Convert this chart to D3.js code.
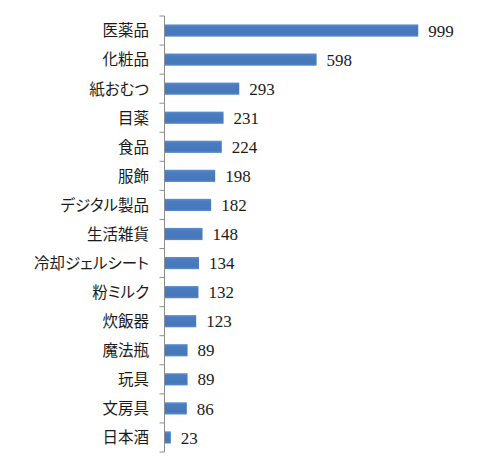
<!DOCTYPE html>
<html>
<head>
<meta charset="utf-8">
<script src="https://cdn.jsdelivr.net/npm/d3@7"></script>
<style>
  body { margin: 0; background: #fff; }
  .cat { font-feature-settings: "palt" 1; }
  .val { font-family: "Liberation Serif", "Times New Roman", Times, serif; }
</style>
</head>
<body>
<div id="chart"></div>
<script>
const categories = ["医薬品", "化粧品", "紙おむつ", "目薬", "食品", "服飾", "デジタル製品", "生活雑貨",
    "冷却ジェルシート", "粉ミルク", "炊飯器", "魔法瓶", "玩具", "文房具", "日本酒"];
const values = [999, 598, 293, 231, 224, 198, 182, 148, 134, 132, 123, 89, 89, 86, 23];

const width = 500, height = 465;
const margin = {top: 16, left: 165, bottom: 13};

const svg = d3.select("#chart").append("svg")
    .attr("width", width)
    .attr("height", height);

const defs = svg.append("defs");
const grad = defs.append("linearGradient")
    .attr("id", "barGrad")
    .attr("x1", 0).attr("y1", 0).attr("x2", 0).attr("y2", 1);
grad.append("stop").attr("offset", "0%").attr("stop-color", "#5d8fd0");
grad.append("stop").attr("offset", "20%").attr("stop-color", "#4a7cc0");
grad.append("stop").attr("offset", "80%").attr("stop-color", "#4677ba");
grad.append("stop").attr("offset", "100%").attr("stop-color", "#5a8acb");

const x = d3.scaleLinear().domain([0, 1000]).range([margin.left, margin.left + 253.5]);
const y = d3.scaleBand()
    .domain(categories)
    .range([margin.top, height - margin.bottom])
    .paddingInner(0.58)
    .paddingOuter(0.29);

const data = categories.map((c, i) => ({name: c, value: values[i]}));

// bars
svg.selectAll(".bar")
    .data(data)
  .enter().append("rect")
    .attr("class", "bar")
    .attr("x", x(0))
    .attr("y", d => y(d.name))
    .attr("width", d => x(d.value) - x(0))
    .attr("height", y.bandwidth())
    .style("fill", "url(#barGrad)");

// axis line with ticks between categories
const axisX = margin.left - 0.5;
const r = y.range();
svg.append("line")
    .attr("x1", axisX).attr("x2", axisX)
    .attr("y1", r[0]).attr("y2", r[1])
    .style("stroke", "#8c8c8c")
    .style("stroke-width", 1);

const step = y.step();
svg.selectAll(".tick")
    .data(d3.range(categories.length + 1))
  .enter().append("line")
    .attr("class", "tick")
    .attr("x1", axisX - 5).attr("x2", axisX)
    .attr("y1", i => r[0] + i * step)
    .attr("y2", i => r[0] + i * step)
    .style("stroke", "#8c8c8c")
    .style("stroke-width", 1);

// category labels
svg.selectAll(".cat")
    .data(data)
  .enter().append("text")
    .attr("class", "cat")
    .attr("x", 149)
    .attr("y", d => y(d.name) + y.bandwidth() / 2)
    .attr("dy", "0.38em")
    .attr("text-anchor", "end")
    .style("font-family", "'Noto Sans CJK JP', sans-serif")
    .style("font-size", "15.5px")
    .style("fill", "#1a1a1a")
    .text(d => d.name);

// value labels
svg.selectAll(".val")
    .data(data)
  .enter().append("text")
    .attr("class", "val")
    .attr("x", d => x(d.value) + 10)
    .attr("y", d => y(d.name) + y.bandwidth() / 2)
    .attr("dy", "0.36em")
    .style("font-size", "17px")
    .style("fill", "#1a1a1a")
    .text(d => d.value);
</script>
</body>
</html>
